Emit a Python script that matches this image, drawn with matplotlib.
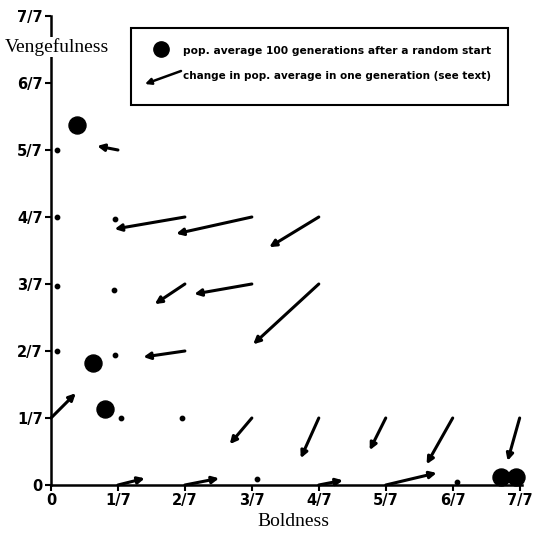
import matplotlib.pyplot as plt
from matplotlib.patches import Rectangle

# grid positions (in sevenths) and one-generation change (in sevenths)
arrow_x = [0, 1, 2, 3, 4, 2, 3, 4, 2, 3, 4, 5, 6, 7, 1, 2, 4, 5]
arrow_y = [1, 5, 4, 4, 4, 3, 3, 3, 2, 1, 1, 1, 1, 1, 0, 0, 0, 0]
arrow_dx = [0.37, -0.31, -1.05, -1.13, -0.74, -0.45, -0.86, -0.98, -0.62,
            -0.33, -0.27, -0.24, -0.39, -0.18, 0.40, 0.51, 0.36, 0.76]
arrow_dy = [0.37, 0.06, -0.18, -0.25, -0.45, -0.30, -0.15, -0.90, -0.09,
            -0.39, -0.60, -0.48, -0.69, -0.64, 0.10, 0.10, 0.07, 0.18]

# grid points with (almost) no change
still_x = [0.09, 0.09, 0.09, 0.09, 0.95, 0.94, 0.95, 1.04, 1.95, 3.08, 6.06]
still_y = [5.0, 4.0, 2.97, 2.0, 3.97, 2.91, 1.94, 1.0, 1.0, 0.09, 0.04]

# population averages after 100 generations
avg_x = [0.386, 0.624, 0.80, 6.72, 6.94]
avg_y = [5.37, 1.82, 1.13, 0.12, 0.12]

ticks = [i / 7 for i in range(8)]
tick_labels = ["0", "1/7", "2/7", "3/7", "4/7", "5/7", "6/7", "7/7"]

fig = plt.figure(figsize=(5.37, 5.36), dpi=100)
ax = fig.add_axes([51 / 537, 51 / 536, 471 / 537, 469 / 536])
ax.set_xlim(0, 1.005)
ax.set_ylim(0, 1)

for s in ["top", "right"]:
    ax.spines[s].set_visible(False)
for s in ["left", "bottom"]:
    ax.spines[s].set_linewidth(1.8)

ax.set_xticks(ticks)
ax.set_xticklabels(tick_labels)
ax.set_yticks(ticks)
ax.set_yticklabels(tick_labels)
ax.tick_params(width=1.5, length=4, labelsize=10.5, pad=2)
for lab in ax.get_xticklabels() + ax.get_yticklabels():
    lab.set_fontweight("bold")

for x, y, dx, dy in zip(arrow_x, arrow_y, arrow_dx, arrow_dy):
    ax.annotate("", xy=((x + dx) / 7, (y + dy) / 7), xytext=(x / 7, y / 7),
                arrowprops=dict(arrowstyle="-|>", lw=2.2, color="black",
                                mutation_scale=10, shrinkA=0, shrinkB=0),
                annotation_clip=False)

ax.scatter([v / 7 for v in still_x], [v / 7 for v in still_y], s=10,
           color="black", zorder=3, clip_on=False)
ax.scatter([v / 7 for v in avg_x], [v / 7 for v in avg_y], s=150,
           color="black", zorder=3, clip_on=False)

# axis titles
fig.text(57 / 537, 1 - 47 / 536, "Vengefulness", family="Liberation Serif",
         fontsize=14, ha="center", va="center",
         bbox=dict(facecolor="white", edgecolor="none", pad=1))
fig.text(293 / 537, 1 - 521 / 536, "Boldness", family="Liberation Serif",
         fontsize=14, ha="center", va="center")

# legend box
fig.patches.append(Rectangle((131 / 537, 1 - 105 / 536), 377 / 537, 77 / 536,
                             transform=fig.transFigure, fill=False,
                             edgecolor="black", lw=1.5))
fig.lines.append(plt.Line2D([161 / 537], [1 - 49 / 536], marker="o",
                            markersize=11, color="black",
                            transform=fig.transFigure))
ax.annotate("", xy=(145 / 537, 1 - 84 / 536), xytext=(181 / 537, 1 - 71 / 536),
            xycoords="figure fraction", textcoords="figure fraction",
            arrowprops=dict(arrowstyle="-|>", lw=1.8, color="black",
                            mutation_scale=9, shrinkA=0, shrinkB=0))
fig.text(183 / 537, 1 - 51 / 536,
         "pop. average 100 generations after a random start",
         fontsize=7.7, fontweight="bold", va="center")
fig.text(183 / 537, 1 - 76 / 536,
         "change in pop. average in one generation (see text)",
         fontsize=7.5, fontweight="bold", va="center")

fig.savefig("out.png", dpi=100)
